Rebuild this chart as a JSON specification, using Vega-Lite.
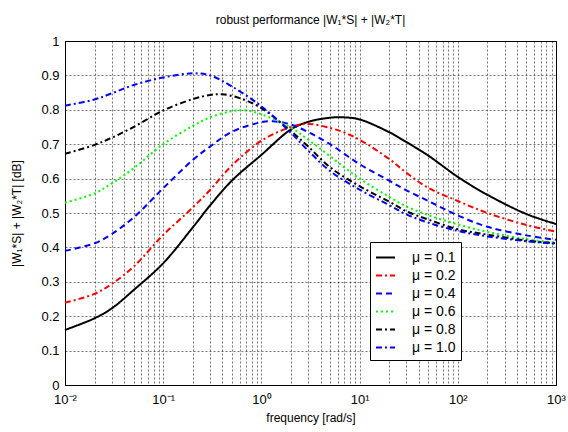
{
  "$schema": "https://vega.github.io/schema/vega-lite/v6.json",
  "width": 491,
  "height": 344,
  "autosize": {"type": "none"},
  "padding": {"left": 65, "top": 41, "right": 12, "bottom": 47},
  "background": "white",
  "title": {"text": "robust performance |W₁*S| + |W₂*T|", "font": "Liberation Sans", "fontSize": 12, "fontWeight": "normal", "color": "black", "offset": 8},
  "config": {
    "view": {"stroke": "black", "strokeWidth": 1},
    "axis": {"labelFont": "Liberation Sans", "titleFont": "Liberation Sans", "labelColor": "black", "titleColor": "black", "labelFontSize": 13, "titleFontSize": 12, "titleFontWeight": "normal", "domainColor": "black", "gridColor": "#000", "gridDash": [2, 2], "gridWidth": 0.6, "gridOpacity": 0.9, "ticks": false}
  },
  "data": {"values": [
    {"x":0.01,"y":0.16,"mu":"μ = 0.1"},{"x":0.02,"y":0.194,"mu":"μ = 0.1"},{"x":0.03,"y":0.223,"mu":"μ = 0.1"},{"x":0.05,"y":0.276,"mu":"μ = 0.1"},{"x":0.1,"y":0.354,"mu":"μ = 0.1"},{"x":0.2,"y":0.458,"mu":"μ = 0.1"},{"x":0.3,"y":0.522,"mu":"μ = 0.1"},{"x":0.5,"y":0.594,"mu":"μ = 0.1"},{"x":1,"y":0.669,"mu":"μ = 0.1"},{"x":2,"y":0.743,"mu":"μ = 0.1"},{"x":3,"y":0.765,"mu":"μ = 0.1"},{"x":5,"y":0.777,"mu":"μ = 0.1"},{"x":7,"y":0.778,"mu":"μ = 0.1"},{"x":10,"y":0.772,"mu":"μ = 0.1"},{"x":20,"y":0.735,"mu":"μ = 0.1"},{"x":30,"y":0.706,"mu":"μ = 0.1"},{"x":50,"y":0.667,"mu":"μ = 0.1"},{"x":100,"y":0.605,"mu":"μ = 0.1"},{"x":200,"y":0.553,"mu":"μ = 0.1"},{"x":500,"y":0.497,"mu":"μ = 0.1"},{"x":1000,"y":0.468,"mu":"μ = 0.1"},
    {"x":0.01,"y":0.239,"mu":"μ = 0.2"},{"x":0.02,"y":0.265,"mu":"μ = 0.2"},{"x":0.03,"y":0.294,"mu":"μ = 0.2"},{"x":0.05,"y":0.344,"mu":"μ = 0.2"},{"x":0.1,"y":0.436,"mu":"μ = 0.2"},{"x":0.2,"y":0.516,"mu":"μ = 0.2"},{"x":0.3,"y":0.567,"mu":"μ = 0.2"},{"x":0.5,"y":0.638,"mu":"μ = 0.2"},{"x":1,"y":0.71,"mu":"μ = 0.2"},{"x":2,"y":0.75,"mu":"μ = 0.2"},{"x":3,"y":0.759,"mu":"μ = 0.2"},{"x":5,"y":0.747,"mu":"μ = 0.2"},{"x":7,"y":0.734,"mu":"μ = 0.2"},{"x":10,"y":0.713,"mu":"μ = 0.2"},{"x":20,"y":0.657,"mu":"μ = 0.2"},{"x":30,"y":0.617,"mu":"μ = 0.2"},{"x":50,"y":0.573,"mu":"μ = 0.2"},{"x":100,"y":0.535,"mu":"μ = 0.2"},{"x":200,"y":0.5,"mu":"μ = 0.2"},{"x":500,"y":0.465,"mu":"μ = 0.2"},{"x":1000,"y":0.446,"mu":"μ = 0.2"},
    {"x":0.01,"y":0.39,"mu":"μ = 0.4"},{"x":0.02,"y":0.412,"mu":"μ = 0.4"},{"x":0.03,"y":0.439,"mu":"μ = 0.4"},{"x":0.05,"y":0.487,"mu":"μ = 0.4"},{"x":0.1,"y":0.572,"mu":"μ = 0.4"},{"x":0.2,"y":0.654,"mu":"μ = 0.4"},{"x":0.3,"y":0.693,"mu":"μ = 0.4"},{"x":0.5,"y":0.736,"mu":"μ = 0.4"},{"x":1,"y":0.764,"mu":"μ = 0.4"},{"x":1.3,"y":0.767,"mu":"μ = 0.4"},{"x":2,"y":0.757,"mu":"μ = 0.4"},{"x":3,"y":0.735,"mu":"μ = 0.4"},{"x":5,"y":0.7,"mu":"μ = 0.4"},{"x":10,"y":0.642,"mu":"μ = 0.4"},{"x":20,"y":0.594,"mu":"μ = 0.4"},{"x":30,"y":0.566,"mu":"μ = 0.4"},{"x":50,"y":0.535,"mu":"μ = 0.4"},{"x":100,"y":0.493,"mu":"μ = 0.4"},{"x":200,"y":0.46,"mu":"μ = 0.4"},{"x":500,"y":0.435,"mu":"μ = 0.4"},{"x":1000,"y":0.422,"mu":"μ = 0.4"},
    {"x":0.01,"y":0.53,"mu":"μ = 0.6"},{"x":0.02,"y":0.557,"mu":"μ = 0.6"},{"x":0.03,"y":0.586,"mu":"μ = 0.6"},{"x":0.05,"y":0.63,"mu":"μ = 0.6"},{"x":0.1,"y":0.7,"mu":"μ = 0.6"},{"x":0.2,"y":0.753,"mu":"μ = 0.6"},{"x":0.3,"y":0.778,"mu":"μ = 0.6"},{"x":0.5,"y":0.796,"mu":"μ = 0.6"},{"x":0.7,"y":0.798,"mu":"μ = 0.6"},{"x":1,"y":0.787,"mu":"μ = 0.6"},{"x":2,"y":0.748,"mu":"μ = 0.6"},{"x":3,"y":0.713,"mu":"μ = 0.6"},{"x":5,"y":0.665,"mu":"μ = 0.6"},{"x":10,"y":0.6,"mu":"μ = 0.6"},{"x":20,"y":0.547,"mu":"μ = 0.6"},{"x":30,"y":0.519,"mu":"μ = 0.6"},{"x":50,"y":0.494,"mu":"μ = 0.6"},{"x":100,"y":0.467,"mu":"μ = 0.6"},{"x":200,"y":0.445,"mu":"μ = 0.6"},{"x":500,"y":0.424,"mu":"μ = 0.6"},{"x":1000,"y":0.414,"mu":"μ = 0.6"},
    {"x":0.01,"y":0.672,"mu":"μ = 0.8"},{"x":0.02,"y":0.698,"mu":"μ = 0.8"},{"x":0.03,"y":0.719,"mu":"μ = 0.8"},{"x":0.05,"y":0.75,"mu":"μ = 0.8"},{"x":0.1,"y":0.798,"mu":"μ = 0.8"},{"x":0.2,"y":0.831,"mu":"μ = 0.8"},{"x":0.3,"y":0.843,"mu":"μ = 0.8"},{"x":0.4,"y":0.845,"mu":"μ = 0.8"},{"x":0.6,"y":0.834,"mu":"μ = 0.8"},{"x":1,"y":0.805,"mu":"μ = 0.8"},{"x":2,"y":0.738,"mu":"μ = 0.8"},{"x":3,"y":0.693,"mu":"μ = 0.8"},{"x":5,"y":0.633,"mu":"μ = 0.8"},{"x":10,"y":0.578,"mu":"μ = 0.8"},{"x":20,"y":0.533,"mu":"μ = 0.8"},{"x":30,"y":0.505,"mu":"μ = 0.8"},{"x":50,"y":0.481,"mu":"μ = 0.8"},{"x":100,"y":0.453,"mu":"μ = 0.8"},{"x":200,"y":0.437,"mu":"μ = 0.8"},{"x":500,"y":0.42,"mu":"μ = 0.8"},{"x":1000,"y":0.412,"mu":"μ = 0.8"},
    {"x":0.01,"y":0.812,"mu":"μ = 1.0"},{"x":0.02,"y":0.83,"mu":"μ = 1.0"},{"x":0.03,"y":0.848,"mu":"μ = 1.0"},{"x":0.05,"y":0.872,"mu":"μ = 1.0"},{"x":0.1,"y":0.894,"mu":"μ = 1.0"},{"x":0.2,"y":0.906,"mu":"μ = 1.0"},{"x":0.3,"y":0.9,"mu":"μ = 1.0"},{"x":0.5,"y":0.868,"mu":"μ = 1.0"},{"x":1,"y":0.81,"mu":"μ = 1.0"},{"x":2,"y":0.733,"mu":"μ = 1.0"},{"x":3,"y":0.681,"mu":"μ = 1.0"},{"x":5,"y":0.622,"mu":"μ = 1.0"},{"x":10,"y":0.568,"mu":"μ = 1.0"},{"x":20,"y":0.523,"mu":"μ = 1.0"},{"x":30,"y":0.496,"mu":"μ = 1.0"},{"x":50,"y":0.472,"mu":"μ = 1.0"},{"x":100,"y":0.448,"mu":"μ = 1.0"},{"x":200,"y":0.432,"mu":"μ = 1.0"},{"x":500,"y":0.418,"mu":"μ = 1.0"},{"x":1000,"y":0.41,"mu":"μ = 1.0"}
  ]},
  "mark": {"type": "line", "strokeWidth": 2, "interpolate": "catmull-rom"},
  "encoding": {
    "x": {"field": "x", "type": "quantitative", "scale": {"type": "log", "domain": [0.01, 1000], "nice": false},
      "axis": {"title": "frequency [rad/s]", "titlePadding": 6, "labelPadding": 8, "values": [0.01,0.02,0.03,0.04,0.05,0.06,0.07,0.08,0.09,0.1,0.2,0.3,0.4,0.5,0.6,0.7,0.8,0.9,1,2,3,4,5,6,7,8,9,10,20,30,40,50,60,70,80,90,100,200,300,400,500,600,700,800,900,1000],
        "labelExpr": "datum.value == 0.01 ? '10⁻²' : datum.value == 0.1 ? '10⁻¹' : datum.value == 1 ? '10⁰' : datum.value == 10 ? '10¹' : datum.value == 100 ? '10²' : datum.value == 1000 ? '10³' : ''",
        "labelOverlap": false, "labelFlush": false}},
    "y": {"field": "y", "type": "quantitative", "scale": {"domain": [0, 1], "nice": false},
      "axis": {"title": "|W₁*S| + |W₂*T|  [dB]", "values": [0,0.1,0.2,0.3,0.4,0.5,0.6,0.7,0.8,0.9,1], "format": "~g", "labelPadding": 6, "titleX": -42, "titleY": 172, "labelFlush": false}},
    "color": {"field": "mu", "type": "nominal",
      "scale": {"domain": ["μ = 0.1","μ = 0.2","μ = 0.4","μ = 0.6","μ = 0.8","μ = 1.0"], "range": ["#000000","#ff0000","#0000ff","#00ff00","#000000","#0000ff"]},
      "legend": {"title": null, "orient": "none", "legendX": 305, "legendY": 201, "strokeColor": "black", "fillColor": "white", "padding": 5, "symbolType": "stroke", "symbolSize": 361, "symbolStrokeWidth": 2, "labelFont": "Liberation Sans", "labelFontSize": 14, "labelColor": "black", "rowPadding": 0, "labelOffset": 16}},
    "strokeDash": {"field": "mu", "type": "nominal",
      "scale": {"domain": ["μ = 0.1","μ = 0.2","μ = 0.4","μ = 0.6","μ = 0.8","μ = 1.0"], "range": [[1,0],[6,3,2,3],[6,4],[2,3],[6,3,2,3],[6,3,2,3]]},
      "legend": {"title": null, "orient": "none", "legendX": 305, "legendY": 201, "strokeColor": "black", "fillColor": "white", "padding": 5, "symbolType": "stroke", "symbolSize": 361, "symbolStrokeWidth": 2, "labelFont": "Liberation Sans", "labelFontSize": 14, "labelColor": "black", "rowPadding": 0, "labelOffset": 16}}
  }
}
